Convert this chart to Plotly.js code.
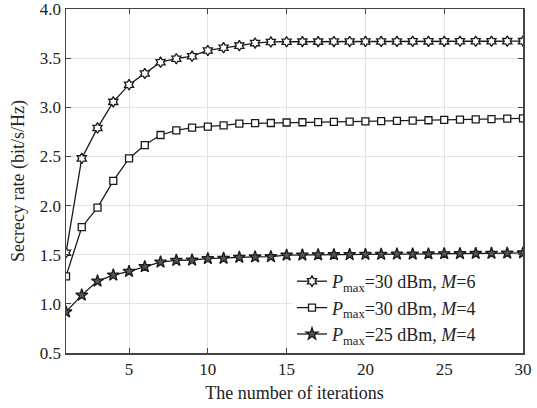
<!DOCTYPE html>
<html><head><meta charset="utf-8">
<script src="https://cdn.plot.ly/plotly-3.0.1.min.js"></script>
<style>html,body{margin:0;padding:0;background:#fff}#c{width:537px;height:408px}</style>
</head><body><div id="c"></div>
<script>
const iterations = [1,2,3,4,5,6,7,8,9,10,11,12,13,14,15,16,17,18,19,20,21,22,23,24,25,26,27,28,29,30];
const rateP30M6 = [1.52,2.48,2.79,3.055,3.23,3.344,3.459,3.494,3.52,3.578,3.606,3.627,3.653,3.665,3.667,3.668,3.668,3.669,3.669,3.670,3.670,3.670,3.671,3.671,3.671,3.672,3.672,3.672,3.673,3.673];
const rateP30M4 = [1.28,1.78,1.98,2.252,2.48,2.616,2.718,2.765,2.793,2.803,2.816,2.834,2.838,2.840,2.845,2.848,2.850,2.852,2.854,2.857,2.859,2.862,2.865,2.868,2.871,2.874,2.877,2.880,2.884,2.888];
const rateP25M4 = [0.918,1.089,1.232,1.293,1.33,1.378,1.425,1.443,1.446,1.46,1.463,1.473,1.477,1.48,1.495,1.497,1.499,1.500,1.502,1.503,1.504,1.506,1.507,1.508,1.510,1.511,1.513,1.514,1.516,1.518];
const seriesNames = ['<i>P</i><sub>max</sub>=30 dBm, <i>M</i>=6','<i>P</i><sub>max</sub>=30 dBm, <i>M</i>=4','<i>P</i><sub>max</sub>=25 dBm, <i>M</i>=4'];
const xTicks = [5,10,15,20,25,30];
const yTicks = [0.5,1.0,1.5,2.0,2.5,3.0,3.5,4.0];

const F = 'Liberation Serif, Times New Roman, serif';
const pad = '\u00a0\u00a0\u00a0\u00a0\u00a0\u00a0\u00a0\u00a0\u00a0';
const mk = (y, name, sym, size, fill) => ({
  x: iterations, y: y, name: name + pad, type: 'scatter', mode: 'lines+markers',
  line: {color: '#1a1a1a', width: 1.3},
  marker: {symbol: sym, size: size, color: fill, line: {color: '#1a1a1a', width: 1.3}}
});
const data = [
  mk(rateP30M6, seriesNames[0], 'hexagram', 8, '#ffffff'),
  mk(rateP30M4, seriesNames[1], 'square', 7, '#ffffff'),
  mk(rateP25M4, seriesNames[2], 'star', 9, '#555555')
];
const ax = {
  showline: true, mirror: 'ticks', linecolor: '#444', linewidth: 1.5,
  ticks: 'inside', ticklen: 5, tickcolor: '#444',
  showgrid: true, gridcolor: '#e3e3e3', gridwidth: 1, zeroline: false,
  ticklabeloverflow: 'allow',
  tickfont: {family: F, size: 17, color: '#222'}
};
const layout = {
  width: 537, height: 408,
  margin: {l: 66, r: 14, t: 9, b: 55},
  paper_bgcolor: '#fff', plot_bgcolor: '#fff',
  font: {family: F, color: '#222'},
  showlegend: true,
  xaxis: Object.assign({}, ax, {range: [1,30], tickvals: xTicks, ticktext: xTicks.map(String),
    title: {text: 'The number of iterations', font: {family: F, size: 18, color: '#222'}, standoff: 8}}),
  yaxis: Object.assign({}, ax, {range: [0.5,4.0], tickvals: yTicks, ticktext: yTicks.map(v => v.toFixed(1)),
    title: {text: 'Secrecy rate (bit/s/Hz)', font: {family: F, size: 18, color: '#222'}, standoff: 10}}),
  legend: {x: 1, xanchor: 'right', y: 0, yanchor: 'bottom', bgcolor: '#fff', borderwidth: 0,
    font: {family: F, size: 18, color: '#222'}, tracegroupgap: 0, itemwidth: 30}
};
Plotly.newPlot('c', data, layout, {displayModeBar: false, staticPlot: true});
</script></body></html>
